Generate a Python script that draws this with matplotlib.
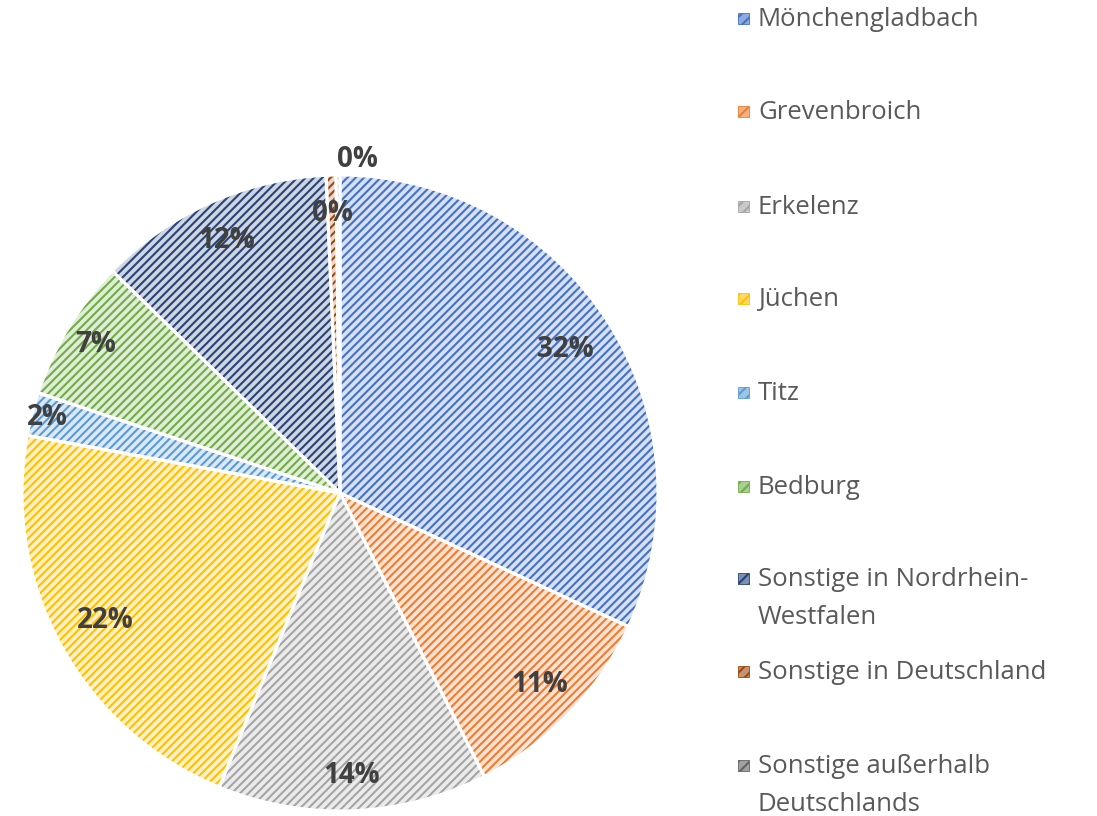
import matplotlib
matplotlib.use("Agg")
import matplotlib.pyplot as plt
import matplotlib.colors as mcolors
from matplotlib.patches import Rectangle
import numpy as np

categories = ["Mönchengladbach", "Grevenbroich", "Erkelenz", "Jüchen", "Titz", "Bedburg",
              "Sonstige in Nordrhein-\nWestfalen", "Sonstige in Deutschland",
              "Sonstige außerhalb\nDeutschlands"]
values = [31.9, 10.6, 13.7, 21.7, 2.2, 7.2, 12.0, 0.5, 0.2]
pct_labels = ["32%", "11%", "14%", "22%", "2%", "7%", "12%", "0%", "0%"]

base_colors = ["#4472C4", "#ED7D31", "#A5A5A5", "#FFC000", "#5B9BD5", "#70AD47",
               "#264478", "#9E480E", "#636363"]
label_radius = [0.84, 0.87, 0.89, 0.84, 0.95, 0.90, 0.87, 0.88, 1.05]

def tint(c, f=0.22):
    r, g, b = mcolors.to_rgb(c)
    return (1 - f + f * r, 1 - f + f * g, 1 - f + f * b)

plt.rcParams['hatch.linewidth'] = 1.5
plt.rcParams['font.family'] = ['Open Sans', 'DejaVu Sans']

W, H = 1097, 816
fig = plt.figure(figsize=(W / 100, H / 100), dpi=100)
cx, cy, R = 340, 493, 318
ax = fig.add_axes([(cx - R) / W, (H - cy - R) / H, 2 * R / W, 2 * R / H])
ax.axis('off')

ax.pie(values, colors=[tint(c) for c in base_colors], startangle=90, counterclock=False,
       radius=1, wedgeprops=dict(linewidth=0))
wedges, _ = ax.pie(values, colors=['none'] * len(values), startangle=90, counterclock=False,
                   radius=1, wedgeprops=dict(linewidth=0))
for w, c in zip(wedges, base_colors):
    w.set_facecolor('none')
    w.set_edgecolor(c)
    w.set_hatch('////')
    w.set_linewidth(0)
ax.pie(values, colors=['none'] * len(values), startangle=90, counterclock=False,
       radius=1, wedgeprops=dict(linewidth=2.2, edgecolor='white', facecolor='none'))
ax.set_xlim(-1, 1)
ax.set_ylim(-1, 1)

total = sum(values)
cum = 0
for i, (v, lab) in enumerate(zip(values, pct_labels)):
    mid = (cum + v / 2) / total * 360
    cum += v
    ang = np.deg2rad(90 - mid)
    r = label_radius[i]
    x, y = r * np.cos(ang), r * np.sin(ang)
    ha = 'center'
    if i == len(values) - 1:
        ha = 'left'
        x = -0.01
    ax.text(x, y, lab, ha=ha, va='center', fontsize=20, fontweight='bold', color='#404040')

leg_y = [18, 111, 206, 298, 392, 486, 578, 671, 765]
for lab, c, yy in zip(categories, base_colors, leg_y):
    sq = 11
    fig.patches.append(Rectangle((738 / W, (H - yy - sq / 2) / H), sq / W, sq / H,
                                 transform=fig.transFigure, facecolor=tint(c, 0.6),
                                 edgecolor=c, linewidth=0.6, hatch='///'))
    fig.text(758 / W, (H - yy + 11) / H, lab, ha='left', va='top', fontsize=18.5,
             color='#595959', linespacing=1.68)

fig.savefig("out.png", dpi=100)
